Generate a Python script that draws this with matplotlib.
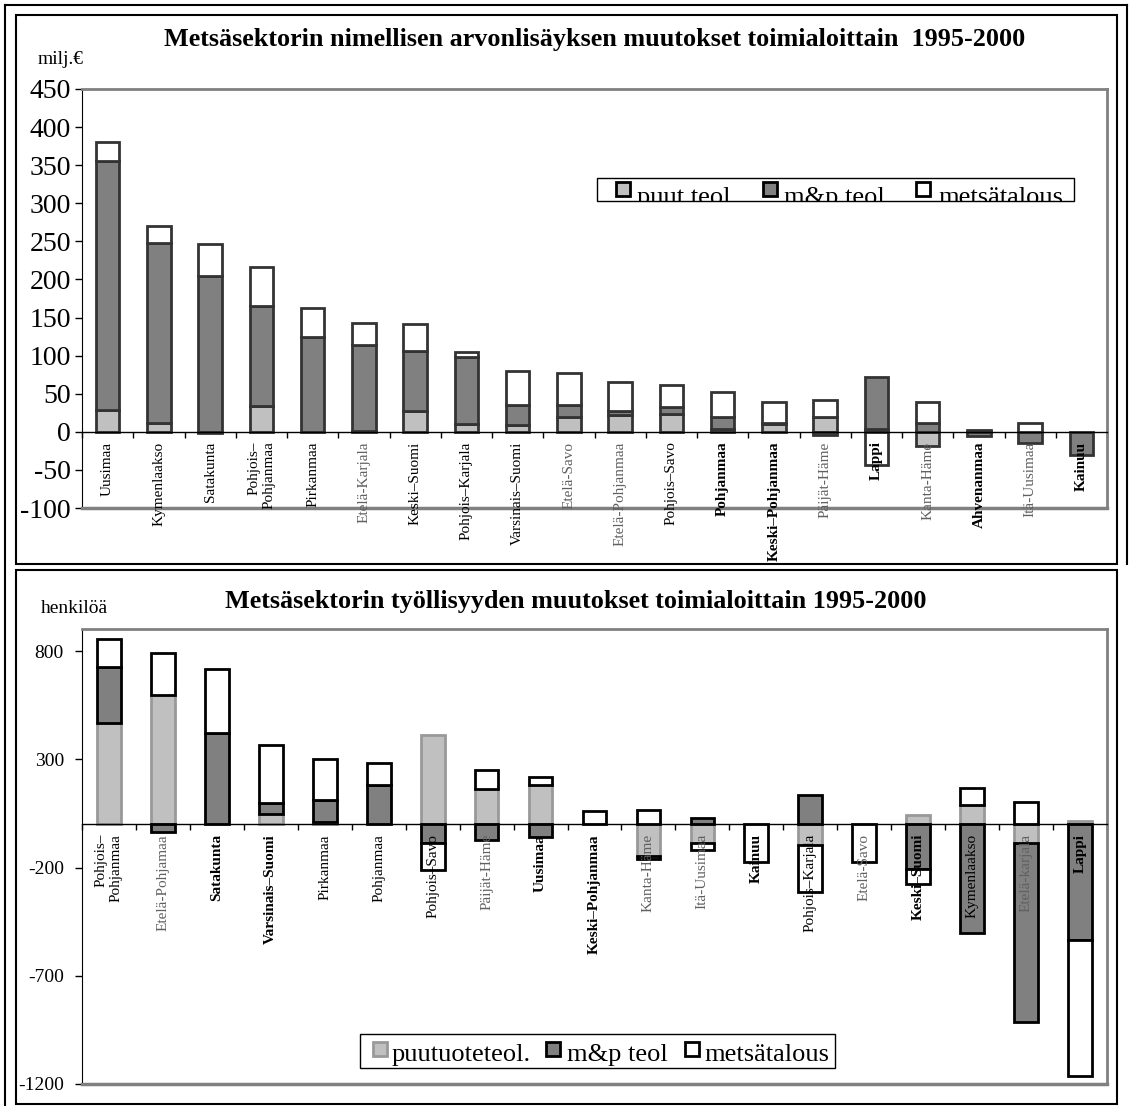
import numpy as np
import matplotlib
matplotlib.use("Agg")
import matplotlib.pyplot as plt
from matplotlib.patches import Rectangle
from matplotlib.lines import Line2D

plt.rcParams['font.family'] = ['Liberation Serif', 'DejaVu Serif']
plt.rcParams['axes.unicode_minus'] = False

# ---- top chart: value added change 1995-2000, milj. EUR ----
top_regions = ["Uusimaa", "Kymenlaakso", "Satakunta", "Pohjois–\nPohjanmaa", "Pirkanmaa",
               "Etelä-Karjala", "Keski–Suomi", "Pohjois–Karjala", "Varsinais–Suomi", "Etelä-Savo",
               "Etelä-Pohjanmaa", "Pohjois–Savo", "Pohjanmaa", "Keski–Pohjanmaa", "Päijät-Häme",
               "Lappi", "Kanta-Häme", "Ahvenanmaa", "Itä-Uusimaa", "Kainuu"]
top_puut = [28, 12, -1, 34, 0, 1, 27, 10, 9, 20, 22, 23, 4, 10, 19, 4, -19, 2, 0, 0]
top_mp = [327, 236, 204, 131, 125, 113, 79, 88, 26, 15, 5, 9, 15, 1, -4, 68, 12, -5, -15, -30]
top_mets = [25, 22, 42, 52, 38, 29, 36, 7, 45, 42, 39, 29, 33, 28, 23, -44, 27, 0, 11, 0]
top_yticks = list(range(-100, 451, 50))

# ---- bottom chart: employment change 1995-2000, persons ----
bot_regions = ["Pohjois–\nPohjanmaa", "Etelä-Pohjamaa", "Satakunta", "Varsinais–Suomi", "Pirkanmaa",
               "Pohjanmaa", "Pohjois–Savo", "Päijät-Häme", "Uusimaa", "Keski–Pohjanmaa",
               "Kanta-Häme", "Itä-Uusimaa", "Kainuu", "Pohjois–Karjala", "Etelä-Savo",
               "Keski–Suomi", "Kymenlaakso", "Etelä-karjala", "Lappi"]
bot_puut = [470, 598, 0, 46, 11, 0, 415, 163, 180, 0, -145, -88, 0, -96, 0, 45, 90, -84, 17]
bot_mp = [258, -35, 424, 52, 102, 180, -86, -73, -58, 0, -15, 29, 0, 138, 0, -207, -502, -828, -533]
bot_mets = [128, 193, 293, 269, 189, 105, -127, 86, 41, 63, 68, -31, -172, -215, -172, -67, 79, 102, -630]
bot_yticks = [-1200, -700, -200, 300, 800]

# label styling (gray / bold names as in the original)
top_gray = {"Etelä-Karjala", "Etelä-Savo", "Etelä-Pohjanmaa", "Päijät-Häme", "Kanta-Häme", "Itä-Uusimaa"}
top_bold = {"Pohjanmaa", "Keski–Pohjanmaa", "Lappi", "Ahvenanmaa", "Kainuu"}
bot_gray = {"Etelä-Pohjamaa", "Päijät-Häme", "Kanta-Häme", "Itä-Uusimaa", "Etelä-Savo", "Etelä-karjala"}
bot_bold = {"Satakunta", "Varsinais–Suomi", "Uusimaa", "Keski–Pohjanmaa", "Kainuu", "Keski–Suomi", "Lappi"}

LIGHT, DARK, WHITE = '#c0c0c0', '#808080', '#ffffff'

W, H = 1130, 1106
fig = plt.figure(figsize=(W / 100, H / 100), dpi=100)


def fx(x):
    return x / W


def fy(y):
    return 1 - y / H


def stack(ax, series, faces, edges, width):
    n = len(series[0])
    x = np.arange(n)
    pos = np.zeros(n)
    neg = np.zeros(n)
    for vals, fc, ec in zip(series, faces, edges):
        v = np.array(vals, float)
        base = np.where(v >= 0, pos, neg)
        m = v != 0
        ax.bar(x[m], v[m], width, bottom=base[m], color=fc, edgecolor=ec,
               linewidth=2, zorder=2)
        pos += np.clip(v, 0, None)
        neg += np.clip(v, None, 0)


def frame(ax, n, ylim, yticks, fs, pad):
    ax.set_xlim(-0.5, n - 0.5)
    ax.set_ylim(*ylim)
    ax.set_yticks(yticks)
    ax.tick_params(axis='y', direction='out', length=5, width=1, labelsize=fs, pad=pad)
    ax.set_xticks(np.arange(n + 1) - 0.5)
    ax.tick_params(axis='x', direction='out', length=4, width=1, labelbottom=False)
    ax.spines['bottom'].set_position(('data', 0))
    ax.spines['bottom'].set_linewidth(1)
    for s in ('top', 'right'):
        ax.spines[s].set_color('#808080')
        ax.spines[s].set_linewidth(2)
    ax.plot([0, 1], [0, 0], transform=ax.transAxes, color='#808080', lw=2.5,
            clip_on=False, zorder=3)


def labels(ax, names, gray, bold, fs):
    for i, name in enumerate(names):
        ax.annotate(name, xy=(i, 0), xytext=(0, -7), textcoords='offset points',
                    rotation=90, ha='center', va='top', multialignment='right',
                    fontsize=fs, color='#606060' if name in gray else 'black',
                    fontweight='bold' if name in bold else 'normal',
                    annotation_clip=False, zorder=5)


def legend(box, items, fs, baseline):
    x0, y0, x1, y1 = box
    rect = Rectangle((fx(x0), fy(y1)), fx(x1) - fx(x0), fy(y0) - fy(y1),
                     transform=fig.transFigure, facecolor='white', edgecolor='black', lw=1)
    fig.add_artist(rect)
    for label, fc, ec, sx, sy, tx in items:
        fig.add_artist(Rectangle((fx(sx), fy(sy + 14)), fx(14), 14 / H,
                                 transform=fig.transFigure, facecolor=fc, edgecolor=ec, lw=2))
        t = fig.text(fx(tx), fy(baseline), label, fontsize=fs, va='baseline', ha='left')
        t.set_clip_path(rect)


# ---- panel frames ----
for xs, ys in [((5, 1127), (5, 5)), ((5, 5), (5, 1106)), ((1127, 1127), (5, 564))]:
    fig.add_artist(Line2D([fx(v) for v in xs], [fy(v) for v in ys], color='black', lw=1.5))
for (x0, y0, x1, y1) in [(16, 15, 1117, 564), (16, 570, 1117, 1104)]:
    fig.add_artist(Rectangle((fx(x0), fy(y1)), fx(x1) - fx(x0), fy(y0) - fy(y1),
                             transform=fig.transFigure, fill=False, edgecolor='black', lw=1.5))

# ---- top chart ----
ax1 = fig.add_axes([fx(82), fy(508), fx(1107) - fx(82), fy(89) - fy(508)])
stack(ax1, [top_puut, top_mp, top_mets], [LIGHT, DARK, WHITE], ['#333333'] * 3, 0.46)
frame(ax1, len(top_regions), (-100, 450), top_yticks, 20, 3)
labels(ax1, top_regions, top_gray, top_bold, 11)
fig.text(fx(595), fy(46), "Metsäsektorin nimellisen arvonlisäyksen muutokset toimialoittain  1995-2000",
         ha='center', va='baseline', fontsize=18.8, fontweight='bold')
fig.text(fx(38), fy(64), "milj.€", ha='left', va='baseline', fontsize=14)
legend((597, 178, 1074, 201),
       [("puut teol", LIGHT, 'black', 616, 182, 637),
        ("m&p teol", DARK, 'black', 763, 182, 784),
        ("metsätalous", WHITE, 'black', 916, 182, 938)], 19, 204)

# ---- bottom chart ----
ax2 = fig.add_axes([fx(82), fy(1084), fx(1107) - fx(82), fy(629) - fy(1084)])
stack(ax2, [bot_puut, bot_mp, bot_mets], [LIGHT, DARK, WHITE], ['#999999', 'black', 'black'], 0.44)
frame(ax2, len(bot_regions), (-1200, 903), bot_yticks, 14, 8)
labels(ax2, bot_regions, bot_gray, bot_bold, 11)
fig.text(fx(576), fy(608), "Metsäsektorin työllisyyden muutokset toimialoittain 1995-2000",
         ha='center', va='baseline', fontsize=18.8, fontweight='bold')
fig.text(fx(41), fy(613), "henkilöä", ha='left', va='baseline', fontsize=14)
legend((360, 1034, 835, 1068),
       [("puutuoteteol.", LIGHT, '#999999', 373, 1042, 392),
        ("m&p teol", DARK, 'black', 546, 1042, 567),
        ("metsätalous", WHITE, 'black', 685, 1042, 704)], 19, 1061)

fig.savefig("out.png", dpi=100)
